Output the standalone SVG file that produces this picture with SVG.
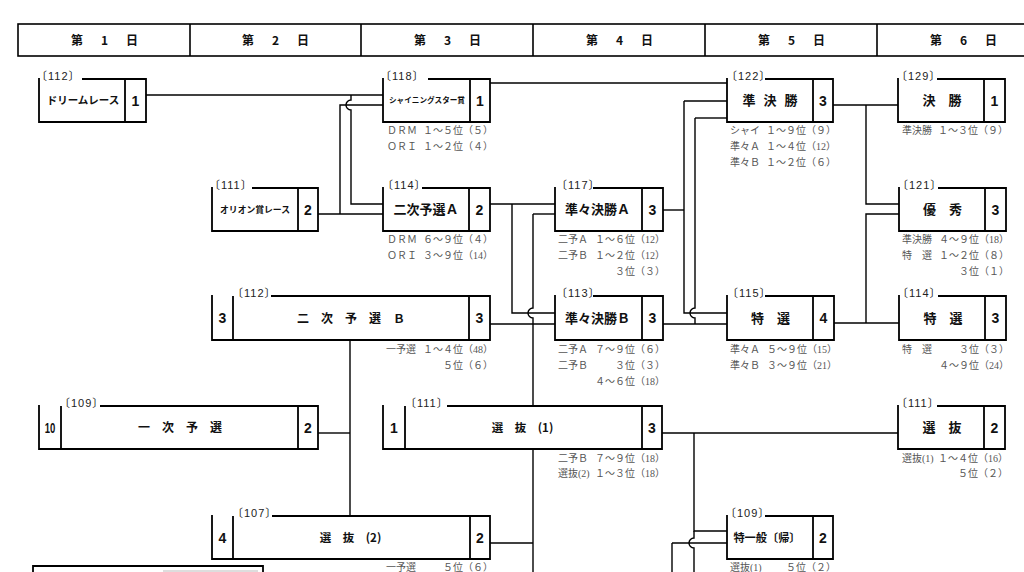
<svg xmlns="http://www.w3.org/2000/svg" width="1024" height="572" viewBox="0 0 1024 572">
<style>
.hdr{fill:none;stroke:#000;stroke-width:1.6}
.ht{font-family:"Noto Sans CJK JP",sans-serif;font-weight:700;font-size:12px;letter-spacing:3px;text-anchor:middle;fill:#111}
.box{fill:none;stroke:#000;stroke-width:1.8}
.ln{fill:none;stroke:#000;stroke-width:1.4}
.lbl{font-family:"Liberation Sans","Noto Sans CJK JP",sans-serif;font-size:11px;letter-spacing:1px;fill:#222}
.nm{font-family:"Noto Sans CJK JP",sans-serif;font-weight:700;font-size:13px;text-anchor:middle;fill:#111}
.num{font-family:"Liberation Sans",Arial,sans-serif;font-weight:700;font-size:14px;text-anchor:middle;fill:#111}
.sl{font-family:"Liberation Serif","Noto Sans CJK JP",serif;font-size:10px;fill:#555}
.sr{font-family:"Liberation Serif","Noto Sans CJK JP",serif;font-size:10px;fill:#555;text-anchor:end}
</style>
<rect width="1024" height="572" fill="#fff"/>
<g id="header">
<rect class="hdr" x="18" y="24" width="1040" height="32"/>
<path class="hdr" d="M190,24 V56 M361,24 V56 M533,24 V56 M705,24 V56 M877,24 V56"/>
<text class="ht" x="106" y="45">第　1　日</text>
<text class="ht" x="277" y="45">第　2　日</text>
<text class="ht" x="449" y="45">第　3　日</text>
<text class="ht" x="621" y="45">第　4　日</text>
<text class="ht" x="793" y="45">第　5　日</text>
<text class="ht" x="965" y="45">第　6　日</text>
</g>
<g id="connectors" class="ln">
<path d="M146,95 H383"/>
<path d="M351,95 V100 A5,5 0 0 0 351,110 V204 H383"/>
<path d="M318,214 H383"/>
<path d="M340,214 V105 H383"/>
<path d="M490,83 H727"/>
<path d="M490,204 H555"/>
<path d="M512,204 V313 H555"/>
<path d="M533,214 H555"/>
<path d="M533,214 V308 A5,5 0 0 0 533,318 V406"/>
<path d="M490,324 H555"/>
<path d="M533,449 V572"/>
<path d="M490,543 H533"/>
<path d="M318,433 H350"/>
<path d="M350,340 V516"/>
<path d="M663,210 H684"/>
<path d="M684,101 V313 H727"/>
<path d="M684,101 H727"/>
<path d="M695,118 H727"/>
<path d="M695,118 V308 A5,5 0 0 0 695,318 V324"/>
<path d="M663,324 H727"/>
<path d="M833,105 H898"/>
<path d="M866,105 V204 H899"/>
<path d="M834,323 H899"/>
<path d="M866,323 V214 H899"/>
<path d="M662,433 H898"/>
<path d="M694,433 V531 H727"/>
<path d="M694,531 V538 A5,5 0 0 0 694,548 V572"/>
<path d="M672,543 H727"/>
<path d="M672,543 V572"/>
</g>
<g id="n112-dream">
<path class="box" d="M82,79 H146 V122 H39 V78 M125,79 V122"/>
<text class="lbl" x="36" y="79.5">〔112〕</text>
<text class="nm" x="83" y="104" style="font-size:10.5px">ドリームレース</text>
<text class="num" x="135.5" y="105.5">1</text>
</g>
<g id="n111-orion">
<path class="box" d="M252,188 H318 V231 H212 V187 M298,188 V231"/>
<text class="lbl" x="209" y="188.5">〔111〕</text>
<text class="nm" x="255" y="212.5" style="font-size:8.8px">オリオン賞レース</text>
<text class="num" x="308" y="214.5">2</text>
</g>
<g id="n112-nijiB">
<path class="box" d="M271,296 H490 V340 H212 V295 M233,296 V340 M469,296 V340"/>
<text class="lbl" x="232" y="296.5">〔112〕</text>
<text class="num" x="222.5" y="323">3</text>
<text class="nm" x="351" y="322.5" style="font-size:12px">二　次　予　選　Ｂ</text>
<text class="num" x="479.5" y="323">3</text>
<text class="sl" x="386" y="353">一予選</text><text class="sr" x="493" y="353">１～４位（48）</text>
<text class="sr" x="493" y="369">５位（６）</text>
</g>
<g id="n109-ichiji">
<path class="box" d="M100,406 H318 V449 H39 V405 M61,406 V449 M298,406 V449"/>
<text class="lbl" x="59" y="406.5">〔109〕</text>
<text class="num" transform="translate(50,433) scale(0.68,1)" x="0" y="0" style="font-size:14px">10</text>
<text class="nm" x="180" y="431.7" style="font-size:12px">一　次　予　選</text>
<text class="num" x="308" y="432.5">2</text>
</g>
<g id="n107-senbatsu2">
<path class="box" d="M272,516 H490 V559 H212 V515 M233,516 V559 M470,516 V559"/>
<text class="lbl" x="232" y="516.5">〔107〕</text>
<text class="num" x="222.5" y="542.5">4</text>
<text class="nm" x="350.5" y="541.5" style="font-size:11.5px">選　抜　(2)</text>
<text class="num" x="480" y="542.5">2</text>
<text class="sl" x="386" y="571">一予選</text><text class="sr" x="493" y="571">５位（６）</text>
</g>
<g id="n118-shining">
<path class="box" d="M428,79 H490 V122 H383 V78 M470,79 V122"/>
<text class="lbl" x="380" y="79.5">〔118〕</text>
<text class="nm" x="427" y="103.2" style="font-size:7.6px">シャイニングスター賞</text>
<text class="num" x="480" y="105.5">1</text>
<text class="sl" x="387" y="134">ＤＲＭ</text><text class="sr" x="493" y="134">１～５位（５）</text>
<text class="sl" x="387" y="150">ＯＲＩ</text><text class="sr" x="493" y="150">１～２位（４）</text>
</g>
<g id="n114-nijiA">
<path class="box" d="M422,188 H490 V231 H383 V187 M469,188 V231"/>
<text class="lbl" x="382" y="188.5">〔114〕</text>
<text class="nm" x="426" y="214">二次予選Ａ</text>
<text class="num" x="479.5" y="214.5">2</text>
<text class="sl" x="387" y="243">ＤＲＭ</text><text class="sr" x="493" y="243">６～９位（４）</text>
<text class="sl" x="387" y="259">ＯＲＩ</text><text class="sr" x="493" y="259">３～９位（14）</text>
</g>
<g id="n111-senbatsu1">
<path class="box" d="M447,406 H662 V449 H383 V405 M405,406 V449 M642,406 V449"/>
<text class="lbl" x="405" y="406.5">〔111〕</text>
<text class="num" x="394" y="432.5">1</text>
<text class="nm" x="522.5" y="431.5" style="font-size:11.5px">選　抜　(1)</text>
<text class="num" x="652" y="432.5">3</text>
<text class="sl" x="558" y="462">二予Ｂ</text><text class="sr" x="665" y="462">７～９位（18）</text>
<text class="sl" x="558" y="477">選抜(2)</text><text class="sr" x="665" y="477">１～３位（18）</text>
</g>
<g id="n117-qfA">
<path class="box" d="M593,188 H663 V231 H555 V187 M642,188 V231"/>
<text class="lbl" x="556" y="188.5">〔117〕</text>
<text class="nm" x="597.5" y="214">準々決勝Ａ</text>
<text class="num" x="652.5" y="214.5">3</text>
<text class="sl" x="558" y="243">二予Ａ</text><text class="sr" x="665" y="243">１～６位（12）</text>
<text class="sl" x="558" y="259">二予Ｂ</text><text class="sr" x="665" y="259">１～２位（12）</text>
<text class="sr" x="665" y="275">３位（３）</text>
</g>
<g id="n113-qfB">
<path class="box" d="M593,296 H663 V340 H555 V295 M642,296 V340"/>
<text class="lbl" x="556" y="296.5">〔113〕</text>
<text class="nm" x="597.5" y="322.5">準々決勝Ｂ</text>
<text class="num" x="652.5" y="323">3</text>
<text class="sl" x="558" y="353">二予Ａ</text><text class="sr" x="665" y="353">７～９位（６）</text>
<text class="sl" x="558" y="369">二予Ｂ</text><text class="sr" x="665" y="369">３位（３）</text>
<text class="sr" x="665" y="385">４～６位（18）</text>
</g>
<g id="n122-sf">
<path class="box" d="M765,79 H833 V122 H727 V78 M813,79 V122"/>
<text class="lbl" x="726" y="79.5">〔122〕</text>
<text class="nm" x="774" y="105" style="letter-spacing:8px">準決勝</text>
<text class="num" x="823" y="105.5">3</text>
<text class="sl" x="730" y="134">シャイ</text><text class="sr" x="836" y="134">１～９位（９）</text>
<text class="sl" x="730" y="150">準々Ａ</text><text class="sr" x="836" y="150">１～４位（12）</text>
<text class="sl" x="730" y="166">準々Ｂ</text><text class="sr" x="836" y="166">１～２位（６）</text>
</g>
<g id="n115-tokusen">
<path class="box" d="M765,296 H834 V340 H727 V295 M813,296 V340"/>
<text class="lbl" x="727" y="296.5">〔115〕</text>
<text class="nm" x="770.5" y="322.5">特　選</text>
<text class="num" x="823.5" y="323">4</text>
<text class="sl" x="730" y="353">準々Ａ</text><text class="sr" x="837" y="353">５～９位（15）</text>
<text class="sl" x="730" y="369">準々Ｂ</text><text class="sr" x="837" y="369">３～９位（21）</text>
</g>
<g id="n109-tokuippan">
<path class="box" d="M765,516 H833 V559 H727 V515 M813,516 V559"/>
<text class="lbl" x="725" y="516.5">〔109〕</text>
<text class="nm" x="767" y="541.5" style="font-size:11.2px">特一般〔帰〕</text>
<text class="num" x="823" y="542.5">2</text>
<text class="sl" x="730" y="571">選抜(1)</text><text class="sr" x="836" y="571">５位（２）</text>
</g>
<g id="n129-final">
<path class="box" d="M937,79 H1005 V122 H898 V78 M984,79 V122"/>
<text class="lbl" x="896" y="79.5">〔129〕</text>
<text class="nm" x="942" y="105">決　勝</text>
<text class="num" x="994.5" y="105.5">1</text>
<text class="sl" x="902" y="134">準決勝</text><text class="sr" x="1008" y="134">１～３位（９）</text>
</g>
<g id="n121-yushu">
<path class="box" d="M938,188 H1006 V231 H899 V187 M985,188 V231"/>
<text class="lbl" x="897" y="188.5">〔121〕</text>
<text class="nm" x="942.5" y="214">優　秀</text>
<text class="num" x="995.5" y="214.5">3</text>
<text class="sl" x="902" y="243">準決勝</text><text class="sr" x="1009" y="243">４～９位（18）</text>
<text class="sl" x="902" y="259">特　選</text><text class="sr" x="1009" y="259">１～２位（８）</text>
<text class="sr" x="1009" y="275">３位（１）</text>
</g>
<g id="n114-tokusen6">
<path class="box" d="M938,296 H1006 V340 H899 V295 M985,296 V340"/>
<text class="lbl" x="897" y="296.5">〔114〕</text>
<text class="nm" x="943" y="322.5">特　選</text>
<text class="num" x="995.5" y="323">3</text>
<text class="sl" x="902" y="353">特　選</text><text class="sr" x="1009" y="353">３位（３）</text>
<text class="sr" x="1009" y="369">４～９位（24）</text>
</g>
<g id="n111-senbatsu6">
<path class="box" d="M937,406 H1005 V449 H898 V405 M984,406 V449"/>
<text class="lbl" x="896" y="406.5">〔111〕</text>
<text class="nm" x="942" y="432">選　抜</text>
<text class="num" x="994.5" y="432.5">2</text>
<text class="sl" x="902" y="462">選抜(1)</text><text class="sr" x="1008" y="462">１～４位（16）</text>
<text class="sr" x="1008" y="477">５位（２）</text>
</g>
<g id="partial-box">
<path class="box" d="M33,573 V566 H263 V573"/>
<path d="M163,571 H258" stroke="#bbb" stroke-width="1" fill="none"/>
</g>
</svg>
